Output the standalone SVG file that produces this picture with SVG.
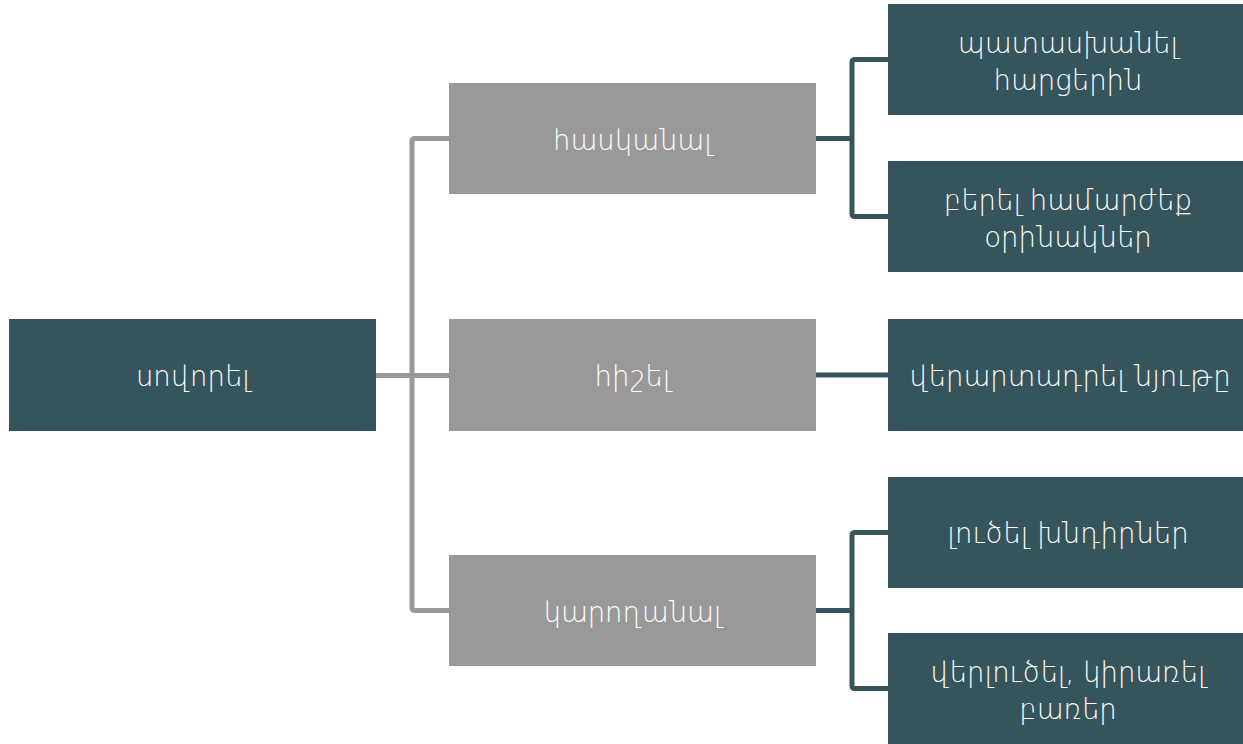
<svg xmlns="http://www.w3.org/2000/svg" width="1243" height="744" viewBox="0 0 1243 744">
<style>
.dark{fill:#36545C}
.gray{fill:#999999}
.t{fill:#FFFFFF;font-family:"DejaVu Sans","Noto Sans",sans-serif;font-size:27.5px;font-weight:300;text-anchor:middle;dominant-baseline:central}
.cg{fill:none;stroke:#999999;stroke-width:5;stroke-linejoin:round}
.cd{fill:none;stroke:#36545C;stroke-width:5;stroke-linejoin:round}
</style>
<rect width="1243" height="744" fill="#FFFFFF"/>
<g id="connectors">
<path class="cg" d="M376 375.5 H449 M449 138.5 H415 Q412 138.5 412 141.5 V607.5 Q412 610.5 415 610.5 H449"/>
<path class="cd" d="M816 138.5 H852 M888 59.5 H855 Q852 59.5 852 62.5 V213.5 Q852 216.5 855 216.5 H888"/>
<path class="cd" d="M816 375 H888"/>
<path class="cd" d="M816 610.5 H852 M888 532.5 H855 Q852 532.5 852 535.5 V685.5 Q852 688.5 855 688.5 H888"/>
</g>
<g id="root"><rect class="dark" x="9" y="319" width="367" height="112"/><text class="t" x="193" y="376">սովորել</text></g>
<g id="n1"><rect class="gray" x="449" y="83" width="367" height="111"/><text class="t" x="632.5" y="139.5">հասկանալ</text></g>
<g id="n2"><rect class="gray" x="449" y="319" width="367" height="112"/><text class="t" x="632.5" y="376">հիշել</text></g>
<g id="n3"><rect class="gray" x="449" y="555" width="367" height="111"/><text class="t" x="632.5" y="611.5">կարողանալ</text></g>
<g id="r1"><rect class="dark" x="888" y="4" width="355" height="111"/><text class="t" x="1068" y="43">պատասխանել</text><text class="t" x="1068" y="80">հարցերին</text></g>
<g id="r2"><rect class="dark" x="888" y="161" width="355" height="111"/><text class="t" x="1068" y="200">բերել համարժեք</text><text class="t" x="1068" y="237">օրինակներ</text></g>
<g id="r3"><rect class="dark" x="888" y="319" width="355" height="112"/><text class="t" x="1070" y="376">վերարտադրել նյութը</text></g>
<g id="r4"><rect class="dark" x="888" y="477" width="355" height="111"/><text class="t" x="1068" y="533">լուծել խնդիրներ</text></g>
<g id="r5"><rect class="dark" x="888" y="633" width="355" height="111"/><text class="t" x="1068" y="672">վերլուծել, կիրառել</text><text class="t" x="1068" y="709">բառեր</text></g>
</svg>
